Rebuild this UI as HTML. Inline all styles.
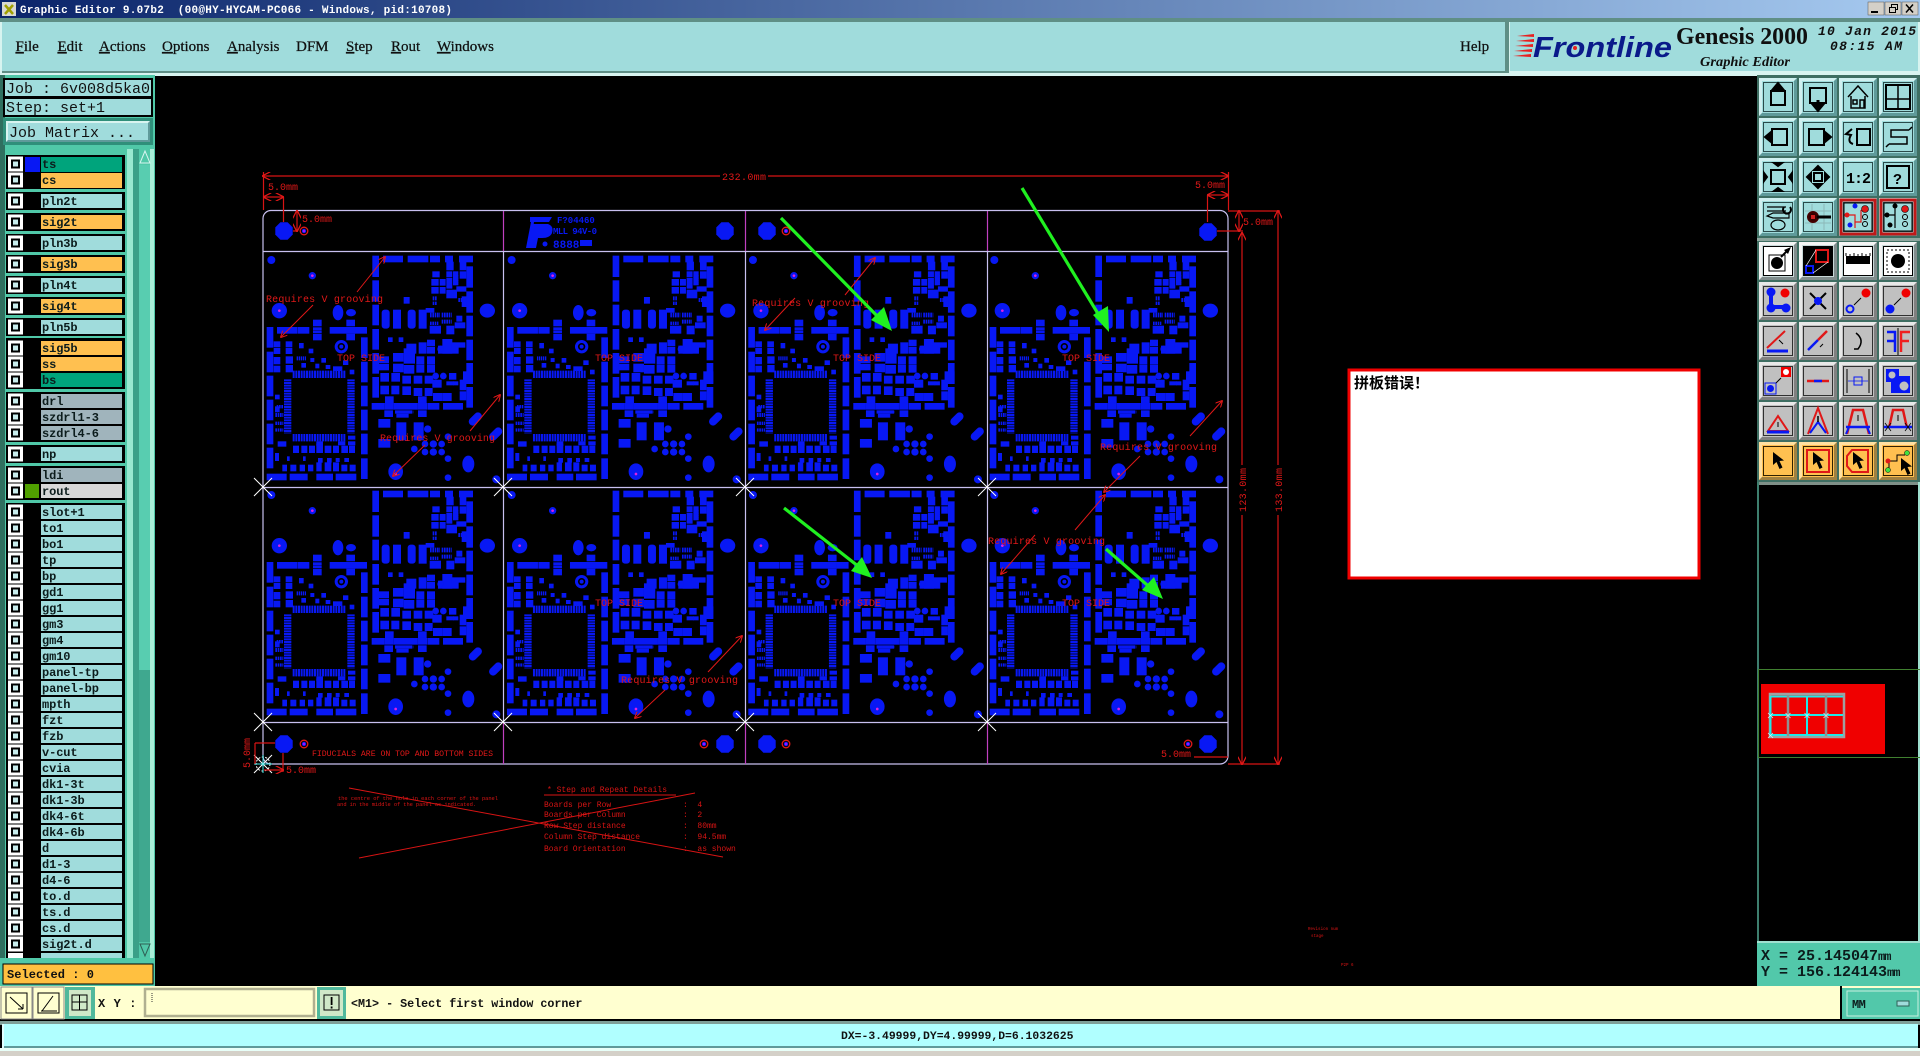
<!DOCTYPE html>
<html><head><meta charset="utf-8"><title>Graphic Editor</title>
<style>
html,body{margin:0;padding:0;background:#000;width:1920px;height:1056px;overflow:hidden}
svg{display:block;position:absolute;left:0;top:0}
text{font-family:"Liberation Mono","Noto Sans CJK SC",monospace;white-space:pre}
.l{font-size:12px;font-weight:bold;fill:#0c1c1c;letter-spacing:-.1px}
.m{font-family:"Liberation Serif",serif;font-size:15px;fill:#101010;stroke:#101010;stroke-width:.25px}
.r{font-size:10px;fill:#e01818}
.s{font-size:8px;fill:#d81414}
</style></head><body>
<svg width="1920" height="1056" viewBox="0 0 1920 1056" xmlns="http://www.w3.org/2000/svg">
<defs>
<linearGradient id="tb" x1="0" x2="1" y1="0" y2="0"><stop offset="0" stop-color="#0a246a"/><stop offset="1" stop-color="#a6caf0"/></linearGradient>
<g id="ck"><rect x="-7.5" y="-7.5" width="15" height="15" fill="#fff"/><rect x="-4.5" y="-4.5" width="9" height="9" fill="#000"/><rect x="-2.5" y="-2.5" width="5" height="5" fill="#c8ecec"/></g>
<marker id="ar" viewBox="0 0 8 8" refX="7" refY="4" markerWidth="7" markerHeight="7" orient="auto-start-reverse"><path d="M0 0L8 4L0 8" fill="none" stroke="#e01818" stroke-width="1.2"/></marker>
<path id="x" d="M-9-9L9 9M-9 9L9-9" stroke="#fff" stroke-width="1" fill="none"/>
<g id="ring"><circle r="3.8" fill="none" stroke="#e01818" stroke-width="1.3"/><circle r="2.2" fill="#2020ff"/><circle r=".9" fill="#f0f"/></g>
<polygon id="oct" points="-3.6,-8.7 3.6,-8.7 8.7,-3.6 8.7,3.6 3.6,8.7 -3.6,8.7 -8.7,3.6 -8.7,-3.6" fill="#0818f4"/>
<g id="bt"><rect width="38" height="38" fill="#a0dcdc"/><path d="M0 0H38L35 3H3V35L0 38Z" fill="#d0f0f0"/><path d="M38 38H0L3 35H35V3L38 0Z" fill="#5f9a9a"/><rect x="4.5" y="4.5" width="29" height="29" fill="none" stroke="#2a4a4a"/></g>
<g id="bg"><rect width="38" height="38" fill="#c0c0c0"/><path d="M0 0H38L35 3H3V35L0 38Z" fill="#e8e8e8"/><path d="M38 38H0L3 35H35V3L38 0Z" fill="#808080"/><rect x="4.5" y="4.5" width="29" height="29" fill="none" stroke="#303030"/></g>
<g id="bw"><rect width="38" height="38" fill="#c8d8d8"/><path d="M0 0H38L35 3H3V35L0 38Z" fill="#f4f4f4"/><path d="M38 38H0L3 35H35V3L38 0Z" fill="#808c8c"/><rect x="4.5" y="4.5" width="29" height="29" fill="#fff" stroke="#000"/></g>
<g id="bo"><rect width="38" height="38" fill="#ffc050"/><path d="M0 0H38L35 3H3V35L0 38Z" fill="#ffe0a0"/><path d="M38 38H0L3 35H35V3L38 0Z" fill="#a08040"/><rect x="4.5" y="4.5" width="29" height="29" fill="none" stroke="#302000"/></g>
<polygon id="cur" points="0,0 0,13 3.5,10 6.5,17 9.5,15.5 6.5,9 11,8.5" fill="#000"/>

<g id="cell" transform="scale(.33333)">
<g fill="#0818f4" stroke="#0818f4" stroke-width="2">
<rect x="368" y="48" width="18" height="62"/><rect x="400" y="48" width="58" height="18"/><rect x="474" y="48" width="60" height="18"/><rect x="541" y="48" width="28" height="18"/><rect x="586" y="48" width="22" height="18"/><rect x="628" y="48" width="40" height="18"/>
<rect x="368" y="122" width="18" height="62"/><rect x="368" y="195" width="18" height="60"/><rect x="368" y="268" width="18" height="60"/><rect x="368" y="340" width="18" height="60"/><rect x="368" y="412" width="18" height="60"/>
<rect x="650" y="80" width="18" height="62"/><rect x="650" y="155" width="18" height="62"/><rect x="650" y="228" width="18" height="60"/><rect x="650" y="300" width="18" height="60"/><rect x="650" y="370" width="18" height="60"/><rect x="650" y="442" width="18" height="60"/>
<rect x="590" y="66" width="20" height="24"/><rect x="630" y="66" width="18" height="24"/><rect x="548" y="95" width="20" height="16"/><rect x="545" y="118" width="20" height="18"/><rect x="570" y="118" width="16" height="18"/><rect x="545" y="142" width="20" height="18"/><rect x="570" y="142" width="16" height="18"/><rect x="590" y="95" width="16" height="16"/><rect x="590" y="115" width="16" height="30"/><rect x="590" y="150" width="30" height="24"/><rect x="620" y="140" width="28" height="14"/><rect x="636" y="170" width="14" height="30"/><rect x="610" y="95" width="14" height="40"/><rect x="630" y="95" width="18" height="20"/>
<rect x="396" y="210" width="22" height="55" rx="8"/><rect x="430" y="210" width="22" height="55"/><rect x="474" y="210" width="22" height="55" rx="8"/><rect x="507" y="210" width="22" height="55"/><rect x="528" y="205" width="24" height="12"/><rect x="620" y="228" width="16" height="16"/><rect x="615" y="248" width="30" height="16"/><rect x="590" y="258" width="22" height="24"/><rect x="540" y="258" width="32" height="22"/><rect x="462" y="172" width="16" height="18"/>
<rect x="415" y="293" width="12" height="12"/><rect x="447" y="293" width="12" height="12"/>
<rect x="532" y="300" width="22" height="18"/><rect x="532" y="322" width="22" height="18"/><rect x="507" y="308" width="22" height="32"/><rect x="470" y="312" width="28" height="28"/><rect x="462" y="326" width="32" height="44"/><rect x="430" y="340" width="30" height="24"/><rect x="430" y="372" width="30" height="24"/><rect x="462" y="376" width="30" height="24"/><rect x="500" y="350" width="22" height="22"/><rect x="532" y="350" width="22" height="22"/><rect x="500" y="375" width="22" height="22"/><rect x="532" y="375" width="22" height="22"/><rect x="578" y="298" width="28" height="42"/><rect x="565" y="318" width="60" height="22"/><rect x="605" y="308" width="40" height="14"/><rect x="386" y="350" width="30" height="18"/><rect x="386" y="372" width="30" height="18"/>
<rect x="392" y="400" width="24" height="24"/><rect x="425" y="400" width="24" height="24"/><rect x="458" y="408" width="24" height="22"/><rect x="492" y="408" width="24" height="22"/><rect x="525" y="408" width="24" height="22"/><rect x="392" y="438" width="24" height="24"/><rect x="425" y="438" width="22" height="24"/><rect x="458" y="440" width="24" height="24"/><rect x="492" y="445" width="24" height="22"/><rect x="525" y="445" width="22" height="22"/><rect x="548" y="420" width="26" height="22"/><rect x="550" y="460" width="26" height="22"/><rect x="578" y="460" width="26" height="22"/><rect x="598" y="400" width="20" height="18"/><rect x="590" y="425" width="20" height="10"/><rect x="610" y="425" width="14" height="10"/><rect x="630" y="420" width="18" height="30"/><rect x="630" y="455" width="18" height="25"/><rect x="640" y="395" width="28" height="36"/><rect x="406" y="470" width="24" height="18"/><rect x="505" y="470" width="24" height="18"/>
<rect x="366" y="490" width="36" height="18"/><rect x="404" y="490" width="26" height="18"/><rect x="432" y="490" width="70" height="18"/><rect x="504" y="490" width="26" height="18"/><rect x="533" y="490" width="34" height="18"/><rect x="580" y="490" width="58" height="18"/><rect x="404" y="512" width="24" height="18"/><rect x="505" y="512" width="24" height="18"/><rect x="436" y="512" width="50" height="8"/><rect x="440" y="522" width="35" height="10"/>
<rect x="386" y="538" width="34" height="24"/><rect x="386" y="598" width="34" height="24"/><rect x="440" y="548" width="28" height="52"/><rect x="492" y="548" width="28" height="52"/>
<rect x="51" y="262" width="18" height="60"/><rect x="51" y="336" width="18" height="60"/><rect x="51" y="408" width="18" height="60"/><rect x="51" y="480" width="18" height="60"/><rect x="51" y="552" width="18" height="60"/><rect x="51" y="624" width="18" height="60"/>
<rect x="334" y="293" width="18" height="60"/><rect x="334" y="366" width="18" height="60"/><rect x="334" y="438" width="18" height="60"/><rect x="334" y="510" width="18" height="60"/><rect x="334" y="582" width="18" height="60"/><rect x="334" y="656" width="18" height="60"/>
<rect x="51" y="702" width="58" height="18"/><rect x="120" y="702" width="52" height="18"/><rect x="200" y="702" width="48" height="18"/><rect x="258" y="702" width="60" height="18"/>
<rect x="130" y="618" width="16" height="20"/><rect x="155" y="618" width="16" height="20"/><rect x="178" y="618" width="16" height="20"/><rect x="200" y="612" width="18" height="26"/><rect x="225" y="618" width="18" height="20"/><rect x="250" y="618" width="16" height="20"/><rect x="275" y="618" width="18" height="20"/><rect x="298" y="618" width="16" height="20"/>
<rect x="98" y="675" width="12" height="18"/><rect x="122" y="675" width="16" height="18"/><rect x="150" y="675" width="14" height="18"/><rect x="175" y="675" width="14" height="18"/><rect x="200" y="668" width="14" height="25"/><rect x="225" y="668" width="18" height="25"/><rect x="250" y="668" width="16" height="25"/><rect x="275" y="675" width="16" height="18"/><rect x="300" y="675" width="16" height="18"/><rect x="76" y="640" width="10" height="22"/><rect x="112" y="650" width="6" height="12"/><rect x="160" y="650" width="6" height="12"/><rect x="205" y="655" width="12" height="12"/><rect x="232" y="655" width="12" height="12"/><rect x="258" y="655" width="10" height="10"/><rect x="284" y="655" width="12" height="10"/><rect x="265" y="605" width="20" height="10"/><rect x="295" y="588" width="20" height="10"/><rect x="295" y="605" width="20" height="10"/>
<rect x="82" y="262" width="60" height="18"/><rect x="145" y="262" width="32" height="18"/><rect x="240" y="262" width="50" height="18"/><rect x="315" y="262" width="35" height="18"/><rect x="290" y="240" width="24" height="18"/><rect x="290" y="282" width="24" height="18"/><rect x="190" y="240" width="24" height="18"/><rect x="190" y="282" width="24" height="18"/><rect x="190" y="263" width="24" height="6"/><rect x="190" y="272" width="24" height="6"/><rect x="290" y="262" width="25" height="18"/>
<rect x="72" y="305" width="18" height="16"/><rect x="108" y="305" width="18" height="16"/><rect x="72" y="325" width="18" height="16"/><rect x="108" y="325" width="18" height="16"/><rect x="72" y="352" width="18" height="20"/><rect x="108" y="350" width="20" height="20"/><rect x="72" y="378" width="18" height="18"/><rect x="108" y="376" width="20" height="20"/>
<rect x="148" y="310" width="12" height="14"/><rect x="177" y="327" width="12" height="12"/><rect x="155" y="370" width="12" height="12"/><rect x="182" y="355" width="10" height="10"/><rect x="215" y="355" width="12" height="12"/><rect x="197" y="372" width="10" height="12"/><rect x="228" y="376" width="12" height="10"/><rect x="250" y="380" width="26" height="12"/><rect x="300" y="390" width="12" height="12"/><rect x="280" y="362" width="14" height="12"/>
<rect x="76" y="465" width="12" height="12"/><rect x="76" y="500" width="12" height="16"/><rect x="84" y="605" width="24" height="14"/><rect x="200" y="605" width="18" height="12"/>
<circle cx="64" cy="60" r="11"/><circle cx="187" cy="107" r="10"/><circle cx="88" cy="212" r="22"/><ellipse cx="264" cy="218" rx="15" ry="22"/><ellipse cx="303" cy="218" rx="14" ry="10"/><ellipse cx="712" cy="212" rx="22" ry="20"/>
<rect x="654" y="526" width="44" height="22" rx="11" transform="rotate(-45 676 537)"/><rect x="715" y="571" width="44" height="22" rx="11" transform="rotate(-45 737 582)"/>
<ellipse cx="655" cy="672" rx="17" ry="24"/><ellipse cx="437" cy="695" rx="21" ry="24"/><circle cx="594" cy="713" r="9"/><circle cx="739" cy="718" r="11"/><circle cx="533" cy="567" r="10"/><circle cx="525" cy="612" r="9"/><circle cx="550" cy="612" r="10"/><circle cx="575" cy="612" r="9"/><circle cx="525" cy="636" r="9"/><circle cx="550" cy="636" r="10"/><circle cx="575" cy="636" r="9"/><circle cx="493" cy="627" r="9"/><circle cx="594" cy="656" r="9"/><circle cx="594" cy="590" r="9"/><circle cx="572" cy="327" r="9"/><circle cx="557" cy="408" r="9"/><circle cx="580" cy="408" r="9"/>
<circle cx="274" cy="320" r="19"/>
</g>
<circle cx="274" cy="320" r="11" fill="#000"/><circle cx="274" cy="320" r="6" fill="#0818f4"/>
<circle cx="187" cy="107" r="4" fill="#e020e0"/><circle cx="88" cy="212" r="4" fill="#e020e0"/><circle cx="437" cy="702" r="4" fill="#e020e0"/>
<g stroke="#0818f4" fill="none">
<line x1="128" x2="288" y1="403" y2="403" stroke-width="22" stroke-dasharray="6 2"/>
<line x1="128" x2="288" y1="593" y2="593" stroke-width="22" stroke-dasharray="6 2"/>
<line x1="113" x2="113" y1="418" y2="580" stroke-width="22" stroke-dasharray="6 2"/>
<line x1="303" x2="303" y1="418" y2="580" stroke-width="22" stroke-dasharray="6 2"/>
<line x1="548" x2="562" y1="175" y2="175" stroke-width="12" stroke-dasharray="5 2"/><line x1="548" x2="562" y1="190" y2="190" stroke-width="10" stroke-dasharray="5 2"/>
<line x1="540" x2="570" y1="225" y2="225" stroke-width="14" stroke-dasharray="5 2"/><line x1="575" x2="605" y1="225" y2="225" stroke-width="14" stroke-dasharray="5 2"/>
<line x1="540" x2="565" y1="250" y2="250" stroke-width="10" stroke-dasharray="5 2"/><line x1="575" x2="605" y1="245" y2="245" stroke-width="12" stroke-dasharray="5 2"/>
<line x1="620" x2="620" y1="105" y2="135" stroke-width="10" stroke-dasharray="5 2"/><line x1="625" x2="648" y1="180" y2="180" stroke-width="12" stroke-dasharray="5 2"/>
<line x1="80" x2="100" y1="500" y2="500" stroke-width="10" stroke-dasharray="5 2"/><line x1="76" x2="100" y1="525" y2="525" stroke-width="12" stroke-dasharray="5 2"/><line x1="76" x2="100" y1="550" y2="550" stroke-width="10" stroke-dasharray="5 2"/><line x1="76" x2="100" y1="570" y2="570" stroke-width="10" stroke-dasharray="5 2"/>
<line x1="140" x2="168" y1="355" y2="355" stroke-width="12" stroke-dasharray="4 2"/>
<line x1="440" x2="490" y1="516" y2="516" stroke-width="8" stroke-dasharray="5 2"/>
</g>
</g>
</defs>

<!-- base -->
<rect width="1920" height="1056" fill="#000"/>
<rect width="1920" height="18" fill="url(#tb)"/>
<rect x="2" y="2" width="14" height="14" fill="#d8d8d0"/><path d="M5 5L13 14M13 5L5 14" stroke="#a0a000" stroke-width="2.5"/>
<text x="20" y="13" font-size="11" font-weight="bold" fill="#fff" letter-spacing=".26">Graphic Editor 9.07b2  (00@HY-HYCAM-PC066 - Windows, pid:10708)</text>
<rect x="1868" y="2" width="16" height="13" fill="#d4d0c8" stroke="#555" stroke-width=".5"/><rect x="1871" y="11" width="7" height="2" fill="#000"/>
<rect x="1885" y="2" width="16" height="13" fill="#d4d0c8" stroke="#555" stroke-width=".5"/><path d="M1889.5 7.5h6v5h-6zM1891.5 7V4.5h6v5h-2" fill="none" stroke="#000"/>
<rect x="1902" y="2" width="16" height="13" fill="#d4d0c8" stroke="#555" stroke-width=".5"/><path d="M1906 4.5l7 8M1913 4.5l-7 8" stroke="#000" stroke-width="1.5"/>

<!-- menu -->
<rect y="18" width="1920" height="58" fill="#d8f4f0"/>
<rect y="18" width="1920" height="4" fill="#5f8f86"/>
<rect x="2" y="22" width="1503" height="49" fill="#a0dcdc"/>
<rect x="2" y="71" width="1503" height="2" fill="#5f8f86"/>
<rect x="1505" y="22" width="4" height="51" fill="#5f8f86"/>
<rect x="1510" y="22" width="408" height="49" fill="#a0dcdc"/>
<text class="m" x="15.5" y="51"><tspan text-decoration="underline">F</tspan>ile</text>
<text class="m" x="57.5" y="51"><tspan text-decoration="underline">E</tspan>dit</text>
<text class="m" x="99" y="51"><tspan text-decoration="underline">A</tspan>ctions</text>
<text class="m" x="162" y="51"><tspan text-decoration="underline">O</tspan>ptions</text>
<text class="m" x="227" y="51"><tspan text-decoration="underline">A</tspan>nalysis</text>
<text class="m" x="296" y="51">DFM</text>
<text class="m" x="346" y="51"><tspan text-decoration="underline">S</tspan>tep</text>
<text class="m" x="391" y="51"><tspan text-decoration="underline">R</tspan>out</text>
<text class="m" x="437" y="51"><tspan text-decoration="underline">W</tspan>indows</text>
<text class="m" x="1460" y="51">Help</text>
<!-- logo -->
<g fill="#e82020"><polygon points="1517,36 1534,34 1534,37"/><polygon points="1516,41 1534,39 1534,42"/><polygon points="1515,46 1533,44 1533,47"/><polygon points="1514,51 1532,49 1532,52"/><polygon points="1513,56 1531,54 1531,57"/></g>
<text x="1533" y="57" font-size="29" font-weight="bold" font-style="italic" fill="#0a1a8a" style="font-family:'Liberation Sans',sans-serif" textLength="139" lengthAdjust="spacingAndGlyphs">Frontline</text>
<circle cx="1575" cy="48" r="2" fill="#e82020"/>
<text x="1676" y="44" font-size="24" font-weight="bold" fill="#101010" style="font-family:'Liberation Serif',serif" textLength="132" lengthAdjust="spacingAndGlyphs">Genesis 2000</text>
<text x="1700" y="66" font-size="14" font-weight="bold" font-style="italic" fill="#101010" style="font-family:'Liberation Serif',serif" textLength="90" lengthAdjust="spacingAndGlyphs">Graphic Editor</text>
<text x="1818" y="35" font-size="13" font-weight="bold" font-style="italic" fill="#101010" textLength="98">10 Jan 2015</text>
<text x="1830" y="50" font-size="13" font-weight="bold" font-style="italic" fill="#101010" textLength="72">08:15 AM</text>

<!-- left panel -->
<rect y="75" width="155" height="912" fill="#50c8a8"/>
<rect y="75" width="5" height="912" fill="#2f6f5f"/>
<rect x="3" y="78" width="150" height="39" fill="#000"/>
<rect x="5" y="80" width="146" height="16" fill="#a0dcdc"/><rect x="5" y="99" width="146" height="16" fill="#a0dcdc"/>
<text x="6" y="93" font-size="15" fill="#111">Job : 6v008d5ka0</text>
<text x="6" y="112" font-size="15" fill="#111">Step: set+1</text>
<rect x="3" y="118" width="150" height="27" fill="#2f8f7a"/>
<rect x="6" y="121" width="144" height="21" fill="#a0dcdc"/><path d="M6 142V121H150L148 123H8V140Z" fill="#d8f4f0"/><path d="M150 121V142H6L8 140H148V123Z" fill="#5f9a9a"/>
<text x="9" y="137" font-size="15" fill="#111">Job Matrix ...</text>
<!-- scrollbar -->
<rect x="127" y="149" width="28" height="810" fill="#50c8a8"/>
<rect x="127" y="149" width="6" height="810" fill="#98e8d0"/>
<rect x="133" y="149" width="6" height="810" fill="#3aa088"/>
<rect x="139" y="165" width="11" height="505" fill="#58cdb0"/><rect x="139" y="670" width="11" height="272" fill="#3fa88f"/>
<rect x="150" y="149" width="4" height="810" fill="#a8eed8"/>
<polygon points="145,151 140,163 150,163" fill="#50c8a8" stroke="#d8f4f0"/>
<polygon points="145,956 140,944 150,944" fill="#50c8a8" stroke="#2f5f55"/>
<!-- layer frames -->
<g fill="#000">
<rect x="6" y="155" width="119" height="34"/><rect x="6" y="192" width="119" height="18"/><rect x="6" y="213" width="119" height="18"/><rect x="6" y="234" width="119" height="18"/><rect x="6" y="255" width="119" height="18"/><rect x="6" y="276" width="119" height="18"/><rect x="6" y="297" width="119" height="18"/><rect x="6" y="318" width="119" height="18"/><rect x="6" y="338" width="119" height="51"/><rect x="6" y="392" width="119" height="50"/><rect x="6" y="445" width="119" height="18"/><rect x="6" y="466" width="119" height="34"/><rect x="6" y="503" width="119" height="456"/>
</g>
<!-- colored bars -->
<g>
<rect x="41" y="157" width="81" height="15" fill="#00a47c"/><rect x="41" y="173" width="81" height="15" fill="#ffc050"/>
<rect x="41" y="194" width="81" height="14" fill="#a0dcdc"/><rect x="41" y="215" width="81" height="14" fill="#ffc050"/><rect x="41" y="236" width="81" height="14" fill="#a0dcdc"/><rect x="41" y="257" width="81" height="14" fill="#ffc050"/><rect x="41" y="278" width="81" height="14" fill="#a0dcdc"/><rect x="41" y="299" width="81" height="14" fill="#ffc050"/><rect x="41" y="320" width="81" height="14" fill="#a0dcdc"/>
<rect x="41" y="341" width="81" height="14" fill="#ffc050"/><rect x="41" y="357" width="81" height="14" fill="#ffc050"/><rect x="41" y="373" width="81" height="14" fill="#00a47c"/>
<rect x="41" y="394" width="81" height="14" fill="#a0b4bc"/><rect x="41" y="410" width="81" height="14" fill="#a0b4bc"/><rect x="41" y="426" width="81" height="14" fill="#a0b4bc"/>
<rect x="41" y="447" width="81" height="14" fill="#a0dcdc"/>
<rect x="41" y="468" width="81" height="14" fill="#a0b4bc"/><rect x="41" y="484" width="81" height="14" fill="#d8d8d8"/>
<rect x="25" y="157" width="15" height="15" fill="#0818f4"/><rect x="25" y="484" width="14" height="14" fill="#50a000"/>
</g>
<g fill="#a0dcdc">
<rect x="41" y="505" width="81" height="14"/><rect x="41" y="521" width="81" height="14"/><rect x="41" y="537" width="81" height="14"/><rect x="41" y="553" width="81" height="14"/><rect x="41" y="569" width="81" height="14"/><rect x="41" y="585" width="81" height="14"/><rect x="41" y="601" width="81" height="14"/><rect x="41" y="617" width="81" height="14"/><rect x="41" y="633" width="81" height="14"/><rect x="41" y="649" width="81" height="14"/><rect x="41" y="665" width="81" height="14"/><rect x="41" y="681" width="81" height="14"/><rect x="41" y="697" width="81" height="14"/><rect x="41" y="713" width="81" height="14"/><rect x="41" y="729" width="81" height="14"/><rect x="41" y="745" width="81" height="14"/><rect x="41" y="761" width="81" height="14"/><rect x="41" y="777" width="81" height="14"/><rect x="41" y="793" width="81" height="14"/><rect x="41" y="809" width="81" height="14"/><rect x="41" y="825" width="81" height="14"/><rect x="41" y="841" width="81" height="14"/><rect x="41" y="857" width="81" height="14"/><rect x="41" y="873" width="81" height="14"/><rect x="41" y="889" width="81" height="14"/><rect x="41" y="905" width="81" height="14"/><rect x="41" y="921" width="81" height="14"/><rect x="41" y="937" width="81" height="14"/><rect x="41" y="953" width="81" height="6"/>
</g>
<!-- checkboxes -->
<g>
<use href="#ck" x="15.5" y="164"/><use href="#ck" x="15.5" y="180"/><use href="#ck" x="15.5" y="201"/><use href="#ck" x="15.5" y="222"/><use href="#ck" x="15.5" y="243"/><use href="#ck" x="15.5" y="264"/><use href="#ck" x="15.5" y="285"/><use href="#ck" x="15.5" y="306"/><use href="#ck" x="15.5" y="327"/><use href="#ck" x="15.5" y="348"/><use href="#ck" x="15.5" y="364"/><use href="#ck" x="15.5" y="380"/><use href="#ck" x="15.5" y="401"/><use href="#ck" x="15.5" y="417"/><use href="#ck" x="15.5" y="433"/><use href="#ck" x="15.5" y="454"/><use href="#ck" x="15.5" y="475"/><use href="#ck" x="15.5" y="491"/>
<use href="#ck" x="15.5" y="512"/><use href="#ck" x="15.5" y="528"/><use href="#ck" x="15.5" y="544"/><use href="#ck" x="15.5" y="560"/><use href="#ck" x="15.5" y="576"/><use href="#ck" x="15.5" y="592"/><use href="#ck" x="15.5" y="608"/><use href="#ck" x="15.5" y="624"/><use href="#ck" x="15.5" y="640"/><use href="#ck" x="15.5" y="656"/><use href="#ck" x="15.5" y="672"/><use href="#ck" x="15.5" y="688"/><use href="#ck" x="15.5" y="704"/><use href="#ck" x="15.5" y="720"/><use href="#ck" x="15.5" y="736"/><use href="#ck" x="15.5" y="752"/><use href="#ck" x="15.5" y="768"/><use href="#ck" x="15.5" y="784"/><use href="#ck" x="15.5" y="800"/><use href="#ck" x="15.5" y="816"/><use href="#ck" x="15.5" y="832"/><use href="#ck" x="15.5" y="848"/><use href="#ck" x="15.5" y="864"/><use href="#ck" x="15.5" y="880"/><use href="#ck" x="15.5" y="896"/><use href="#ck" x="15.5" y="912"/><use href="#ck" x="15.5" y="928"/><use href="#ck" x="15.5" y="944"/>
</g>
<rect x="8" y="953" width="15" height="6" fill="#fff"/>
<!-- layer labels -->
<text class="l" x="42" y="168">ts</text><text class="l" x="42" y="184">cs</text><text class="l" x="42" y="205">pln2t</text><text class="l" x="42" y="226">sig2t</text><text class="l" x="42" y="247">pln3b</text><text class="l" x="42" y="268">sig3b</text><text class="l" x="42" y="289">pln4t</text><text class="l" x="42" y="310">sig4t</text><text class="l" x="42" y="331">pln5b</text><text class="l" x="42" y="352">sig5b</text><text class="l" x="42" y="368">ss</text><text class="l" x="42" y="384">bs</text><text class="l" x="42" y="405">drl</text><text class="l" x="42" y="421">szdrl1-3</text><text class="l" x="42" y="437">szdrl4-6</text><text class="l" x="42" y="458">np</text><text class="l" x="42" y="479">ldi</text><text class="l" x="42" y="495">rout</text>
<text class="l" x="42" y="516">slot+1</text><text class="l" x="42" y="532">to1</text><text class="l" x="42" y="548">bo1</text><text class="l" x="42" y="564">tp</text><text class="l" x="42" y="580">bp</text><text class="l" x="42" y="596">gd1</text><text class="l" x="42" y="612">gg1</text><text class="l" x="42" y="628">gm3</text><text class="l" x="42" y="644">gm4</text><text class="l" x="42" y="660">gm10</text><text class="l" x="42" y="676">panel-tp</text><text class="l" x="42" y="692">panel-bp</text><text class="l" x="42" y="708">mpth</text><text class="l" x="42" y="724">fzt</text><text class="l" x="42" y="740">fzb</text><text class="l" x="42" y="756">v-cut</text><text class="l" x="42" y="772">cvia</text><text class="l" x="42" y="788">dk1-3t</text><text class="l" x="42" y="804">dk1-3b</text><text class="l" x="42" y="820">dk4-6t</text><text class="l" x="42" y="836">dk4-6b</text><text class="l" x="42" y="852">d</text><text class="l" x="42" y="868">d1-3</text><text class="l" x="42" y="884">d4-6</text><text class="l" x="42" y="900">to.d</text><text class="l" x="42" y="916">ts.d</text><text class="l" x="42" y="932">cs.d</text><text class="l" x="42" y="948">sig2t.d</text>
<!-- selected -->
<rect y="958" width="155" height="29" fill="#50c8a8"/>
<rect x="3" y="964" width="150" height="20" fill="#ffc040" stroke="#000"/>
<text x="7" y="978" font-size="12" font-weight="bold" fill="#111" letter-spacing=".05">Selected : 0</text>

<!-- PCB cells -->
<use href="#cell" x="250" y="240"/><use href="#cell" x="490.3" y="240"/><use href="#cell" x="731.6" y="240"/><use href="#cell" x="973" y="240"/>
<use href="#cell" x="250" y="475"/><use href="#cell" x="490.3" y="475"/><use href="#cell" x="731.6" y="475"/><use href="#cell" x="973" y="475"/>

<!-- outline and grid -->
<g fill="none" stroke-width="1.2">
<rect x="263" y="210.5" width="965" height="553.5" rx="8" stroke="#c8c0f0"/>
<path d="M263 251.5H1228M263 487.5H1228M263 722.5H1228" stroke="#c8c0f0"/>
<path d="M503.5 251V722M745.5 251V722M987.5 251V722" stroke="#c8c0f0"/>
<path d="M503.5 211V251M745.5 211V251M987.5 211V251M503.5 723V764M745.5 723V764M987.5 723V764" stroke="#c040c0"/>
</g>
<g>
<use href="#x" x="263" y="487"/><use href="#x" x="503" y="487"/><use href="#x" x="745" y="487"/><use href="#x" x="987" y="487"/>
<use href="#x" x="263" y="722"/><use href="#x" x="503" y="722"/><use href="#x" x="745" y="722"/><use href="#x" x="987" y="722"/>
<use href="#x" x="263" y="764"/>
</g>
<circle cx="263" cy="764" r="7" fill="none" stroke="#fff" stroke-dasharray="2 1.5"/><path d="M254 764H272M263 755V773" stroke="#40e8e8"/>
<!-- rail fiducials -->
<use href="#oct" x="284" y="231"/><use href="#ring" x="304" y="231"/>
<use href="#oct" x="725" y="231"/><use href="#oct" x="767" y="231"/><use href="#ring" x="786" y="231"/><use href="#oct" x="1208" y="232"/>
<use href="#oct" x="284" y="744"/><use href="#ring" x="304" y="744"/>
<use href="#ring" x="704" y="744"/><use href="#oct" x="725" y="744"/><use href="#oct" x="767" y="744"/><use href="#ring" x="786" y="744"/>
<use href="#ring" x="1188" y="744"/><use href="#oct" x="1208" y="744"/>
<!-- logo block -->
<g fill="#0818f4">
<path d="M530 217H552L549 222H530ZM526 248L531 222L534 222L530 248Z"/>
<path d="M532 224H548Q554 226 552 233Q550 238 542 238H538L536 248H528Z"/>
<circle cx="545" cy="244" r="2.5"/>
</g>
<text x="557" y="223" font-size="9" font-weight="bold" fill="#0818f4">F?04460</text>
<text x="553" y="234" font-size="9" font-weight="bold" fill="#0818f4" textLength="44">MLL 94V-0</text>
<text x="553" y="248" font-size="11" font-weight="bold" fill="#0818f4">8888</text>
<rect x="580" y="240" width="12" height="6" fill="#0818f4"/>

<!-- dims -->
<g fill="none" stroke="#d81414" stroke-width="1.2">
<path d="M263.5 210V172M283.5 222V197M297 231H293M1228.5 172V210M1207.5 222V195M1228 211H1280M1217 231H1243M1228 764H1280M255 743H275M255 743V764M283 753V772"/>
<path d="M263 176H720" marker-start="url(#ar)"/><path d="M768 176H1228" marker-end="url(#ar)"/>
<path d="M264 197H283" marker-start="url(#ar)" marker-end="url(#ar)"/>
<path d="M1208 195H1228" marker-start="url(#ar)" marker-end="url(#ar)"/>
<path d="M297 211V231" marker-start="url(#ar)" marker-end="url(#ar)"/>
<path d="M1239 211V231" marker-start="url(#ar)" marker-end="url(#ar)"/>
<path d="M1242 233V465" marker-start="url(#ar)"/><path d="M1242 515V764" marker-end="url(#ar)"/>
<path d="M1278 211V465" marker-start="url(#ar)"/><path d="M1278 515V764" marker-end="url(#ar)"/>
<path d="M264 770H283" marker-end="url(#ar)"/>
<path d="M1194 757H1228" />
</g>
<text class="r" x="722" y="180" textLength="44">232.0mm</text>
<text class="r" x="268" y="190">5.0mm</text>
<text class="r" x="302" y="222">5.0mm</text>
<text class="r" x="1195" y="188">5.0mm</text>
<text class="r" x="1243" y="225">5.0mm</text>
<text class="r" x="1161" y="757">5.0mm</text>
<text class="r" x="286" y="773">5.0mm</text>
<text class="r" transform="translate(250 768) rotate(-90)">5.0mm</text>
<text class="r" transform="translate(1246 512) rotate(-90)" textLength="44">123.0mm</text>
<text class="r" transform="translate(1282 512) rotate(-90)" textLength="44">133.0mm</text>
<text x="312" y="756" font-size="8.2" fill="#e01818" textLength="181">FIDUCIALS ARE ON TOP AND BOTTOM SIDES</text>

<!-- red labels -->
<g>
<text class="r" x="266" y="302" textLength="117">Requires V grooving</text>
<text class="r" x="380" y="441" textLength="115">Requires V grooving</text>
<text class="r" x="752" y="306" textLength="117">Requires V grooving</text>
<text class="r" x="1100" y="450" textLength="117">Requires V grooving</text>
<text class="r" x="988" y="544" textLength="117">Requires V grooving</text>
<text class="r" x="621" y="683" textLength="117">Requires V grooving</text>
<text class="r" x="337" y="361">TOP SIDE</text>
<text class="r" x="595" y="361">TOP SIDE</text>
<text class="r" x="833" y="361">TOP SIDE</text>
<text class="r" x="1062" y="361">TOP SIDE</text>
<text class="r" x="595" y="606">TOP SIDE</text>
<text class="r" x="833" y="606">TOP SIDE</text>
<text class="r" x="1062" y="606">TOP SIDE</text>
</g>
<g stroke="#e01818" stroke-width="1" fill="none">
<path d="M357 292L385 257" marker-end="url(#ar)"/><path d="M313 305L281 337" marker-end="url(#ar)"/>
<path d="M470 431L500 395" marker-end="url(#ar)"/><path d="M425 445L393 476" marker-end="url(#ar)"/>
<path d="M795 298L765 330" marker-end="url(#ar)"/><path d="M845 295L875 258" marker-end="url(#ar)"/>
<path d="M1190 436L1222 401" marker-end="url(#ar)"/><path d="M1140 456L1104 492" marker-end="url(#ar)"/>
<path d="M1035 535L1001 574" marker-end="url(#ar)"/><path d="M1075 530L1105 495" marker-end="url(#ar)"/>
<path d="M708 672L742 636" marker-end="url(#ar)"/><path d="M665 690L635 718" marker-end="url(#ar)"/>
</g>

<!-- notes -->
<text x="338" y="800" font-size="5.4" fill="#d81414" textLength="160">the centre of the hole in each corner of the panel</text>
<text x="337" y="806" font-size="5.4" fill="#d81414" textLength="139">and in the middle of the panel as indicated.</text>
<text class="s" x="547" y="792" textLength="120">* Step and Repeat Details</text>
<line x1="544" x2="676" y1="795" y2="795" stroke="#d81414"/>
<text class="s" x="544" y="807">Boards per Row</text><text class="s" x="683" y="807">:  4</text>
<text class="s" x="544" y="817">Boards per Column</text><text class="s" x="683" y="817">:  2</text>
<text class="s" x="544" y="828">Row Step distance</text><text class="s" x="683" y="828">:  80mm</text>
<text class="s" x="544" y="839">Column Step distance</text><text class="s" x="683" y="839">:  94.5mm</text>
<text class="s" x="544" y="851">Board Orientation</text><text class="s" x="683" y="851">:  as shown</text>
<path d="M349 788L723 857M359 858L695 793" stroke="#d81414" stroke-width="1" fill="none"/>
<text x="1308" y="930" font-size="4.2" fill="#d81414">Revision num</text>
<text x="1311" y="937" font-size="4.2" fill="#d81414">stage</text>
<text x="1341" y="966" font-size="4.2" fill="#d81414">P2P 6</text>

<!-- green arrows -->
<g stroke="#20f020" stroke-width="3.2" fill="#20f020">
<line x1="781" y1="218" x2="883" y2="322"/><polygon points="892,331 871,320 884,307" stroke="none"/>
<line x1="1022" y1="188" x2="1100" y2="317"/><polygon points="1109,332 1093,315 1108,306" stroke="none"/>
<line x1="784" y1="508" x2="863" y2="570"/><polygon points="872,578 851,571 862,557" stroke="none"/>
<line x1="1106" y1="549" x2="1154" y2="591"/><polygon points="1163,599 1142,590 1154,577" stroke="none"/>
</g>

<!-- message box -->
<rect x="1349" y="370" width="350" height="208" fill="#fff" stroke="#f00000" stroke-width="3"/>
<text x="1354" y="388" font-size="15" font-weight="bold" fill="#000" style="font-family:'Noto Sans CJK SC','WenQuanYi Zen Hei',sans-serif">拼板错误！</text>

<!-- right panel -->
<rect x="1757" y="75" width="163" height="407" fill="#3e6e62"/>
<rect x="1757" y="238" width="163" height="3" fill="#8fa8a0"/>
<rect x="1757" y="482" width="163" height="3" fill="#7f9088"/>
<rect x="1757" y="482" width="2" height="460" fill="#3e7e6e"/>
<rect x="1918" y="482" width="2" height="460" fill="#a0e0d0"/>
<g>
<use href="#bt" x="1759" y="78"/><use href="#bt" x="1799" y="78"/><use href="#bt" x="1839" y="78"/><use href="#bt" x="1879" y="78"/>
<use href="#bt" x="1759" y="118"/><use href="#bt" x="1799" y="118"/><use href="#bt" x="1839" y="118"/><use href="#bt" x="1879" y="118"/>
<use href="#bt" x="1759" y="158"/><use href="#bt" x="1799" y="158"/><use href="#bt" x="1839" y="158"/><use href="#bt" x="1879" y="158"/>
<use href="#bt" x="1759" y="198"/><use href="#bt" x="1799" y="198"/><use href="#bt" x="1839" y="198"/><use href="#bt" x="1879" y="198"/>
<use href="#bw" x="1759" y="242"/><use href="#bw" x="1799" y="242"/><use href="#bw" x="1839" y="242"/><use href="#bw" x="1879" y="242"/>
<use href="#bg" x="1759" y="282"/><use href="#bg" x="1799" y="282"/><use href="#bg" x="1839" y="282"/><use href="#bg" x="1879" y="282"/>
<use href="#bg" x="1759" y="322"/><use href="#bg" x="1799" y="322"/><use href="#bg" x="1839" y="322"/><use href="#bg" x="1879" y="322"/>
<use href="#bg" x="1759" y="362"/><use href="#bg" x="1799" y="362"/><use href="#bg" x="1839" y="362"/><use href="#bg" x="1879" y="362"/>
<use href="#bg" x="1759" y="402"/><use href="#bg" x="1799" y="402"/><use href="#bg" x="1839" y="402"/><use href="#bg" x="1879" y="402"/>
<use href="#bo" x="1759" y="442"/><use href="#bo" x="1799" y="442"/><use href="#bo" x="1839" y="442"/><use href="#bo" x="1879" y="442"/>
</g>
<!-- icons row 1-4 -->
<g fill="none" stroke="#000" stroke-width="2">
<g transform="translate(1759 78)"><rect x="12" y="13" width="14" height="14"/><path d="M19 5L14 11H24Z" fill="#000"/><path d="M19 10V14" stroke-width="3"/></g>
<g transform="translate(1799 78)"><rect x="11" y="10" width="16" height="15"/><path d="M19 33L14 27H24Z" fill="#000"/><path d="M19 22V28" stroke-width="3"/></g>
<g transform="translate(1839 78)" stroke-width="1.5"><path d="M9 19L19 8L29 19M12 18V30H26V18M21 22H25V30H21ZM14 22H18V26H14Z"/></g>
<g transform="translate(1879 78)"><rect x="7" y="7" width="24" height="24"/><path d="M19 7V31M7 21H31" stroke-width="1.5"/></g>
<g transform="translate(1759 118)"><rect x="13" y="11" width="15" height="16"/><path d="M6 19L12 14V24Z" fill="#000"/></g>
<g transform="translate(1799 118)"><rect x="10" y="11" width="15" height="16"/><path d="M32 19L26 14V24Z" fill="#000"/></g>
<g transform="translate(1839 118)"><rect x="18" y="11" width="13" height="16"/><path d="M14 26Q8 24 12 17L7 16L13 11" stroke-width="2"/></g>
<g transform="translate(1879 118)"><path d="M30 12H12V19H28V26H10M30 12L33 9M10 26L7 29" stroke-width="1.5"/></g>
<g transform="translate(1759 158)"><rect x="12" y="12" width="14" height="14"/><path d="M19 8L15 5H23ZM19 30L15 33H23ZM8 19L5 15V23ZM30 19L33 15V23Z" fill="#000"/></g>
<g transform="translate(1799 158)"><rect x="15" y="15" width="8" height="8"/><path d="M19 8L15 12H23ZM19 30L15 26H23ZM8 19L12 15V23ZM30 19L26 15V23Z" fill="#000"/></g>
<g transform="translate(1879 158)"><rect x="8" y="8" width="22" height="22"/></g>
<g transform="translate(1759 198)" stroke-width="1.2"><path d="M8 9H27M8 13H27M8 18L14 15H30V20H14Z"/><path d="M25 9a4 4 0 1 0 6 0" stroke-width="2"/><ellipse cx="19" cy="27" rx="7" ry="5"/></g>
<g transform="translate(1799 198)"><path d="M6 13H32M6 25H32M13 6V32M25 6V32" stroke="#8cb8b8" stroke-width="1"/><circle cx="14" cy="19" r="5" fill="#300" stroke="#400"/><rect x="12" y="17" width="4" height="4" fill="#d02020" stroke="none"/><path d="M18 19H32" stroke-width="3"/></g>
</g>
<text x="1846" y="183" font-size="15" font-weight="bold" fill="#000" letter-spacing="-1">1:2</text>
<text x="1893" y="184" font-size="15" font-weight="bold" fill="#000">?</text>
<g transform="translate(1839 198)"><rect x="2" y="2" width="34" height="34" fill="none" stroke="#c01818" stroke-width="3"/><rect x="5" y="5" width="28" height="28" fill="none" stroke="#000"/><path d="M8 17H16V30M16 24H22V12M16 17" fill="none" stroke="#e01818" stroke-width="1.2"/><circle cx="8" cy="17" r="2.5" fill="#e01818"/><circle cx="16" cy="8" r="2.5" fill="#0818f4"/><circle cx="11" cy="27" r="2.5" fill="#0818f4"/><circle cx="26" cy="11" r="3.5" fill="#e01818" stroke="#000" stroke-width=".6"/><circle cx="26" cy="19" r="2.5" fill="none" stroke="#000"/><circle cx="26" cy="26" r="2.5" fill="none" stroke="#000"/></g>
<g transform="translate(1879 198)"><rect x="2" y="2" width="34" height="34" fill="none" stroke="#c01818" stroke-width="3"/><rect x="5" y="5" width="28" height="28" fill="none" stroke="#000"/><path d="M8 17H16M16 8V30" fill="none" stroke="#000" stroke-width="1.2"/><circle cx="8" cy="17" r="2.5" fill="#000"/><circle cx="16" cy="8" r="2.5" fill="#000"/><circle cx="11" cy="27" r="2.5" fill="#000"/><circle cx="26" cy="11" r="3.5" fill="#e01818" stroke="#000" stroke-width=".6"/><circle cx="26" cy="19" r="2.5" fill="none" stroke="#000"/><circle cx="26" cy="26" r="2.5" fill="none" stroke="#000"/></g>
<!-- white row -->
<g transform="translate(1759 242)"><rect x="10" y="13" width="16" height="16" fill="none" stroke="#000"/><circle cx="18" cy="21" r="6" fill="#000"/><path d="M22 15L30 7" stroke="#000" stroke-width="2"/><path d="M32 5L25 8L29 12Z" fill="#000"/></g>
<g transform="translate(1799 242)"><rect x="5" y="5" width="28" height="28" fill="#000"/><rect x="17" y="8" width="12" height="12" fill="none" stroke="#e01818" stroke-width="2"/><rect x="7" y="24" width="7" height="7" fill="none" stroke="#0818f4" stroke-width="2"/><path d="M7 24L17 8M14 31L29 20" stroke="#fff" stroke-width=".7"/></g>
<g transform="translate(1839 242)"><rect x="7" y="14" width="24" height="8" fill="#000"/><path d="M7 14V11M11 14V12M15 14V11M19 14V12M23 14V11M27 14V12M31 14V11" stroke="#000"/></g>
<g transform="translate(1879 242)"><rect x="8" y="8" width="22" height="22" fill="none" stroke="#000" stroke-dasharray="2 2"/><circle cx="19" cy="19" r="7" fill="#000"/></g>
<!-- gray row 2 -->
<g transform="translate(1759 282)"><path d="M12 10V25H26" stroke="#0818f4" stroke-width="4" fill="none"/><circle cx="12" cy="10" r="4.5" fill="#0818f4"/><circle cx="12" cy="26" r="4.5" fill="#0818f4"/><circle cx="27" cy="26" r="4.5" fill="#0818f4"/><circle cx="26" cy="11" r="4.5" fill="#f00000"/></g>
<g transform="translate(1799 282)"><path d="M11 11L27 27M27 11L11 27" stroke="#000" stroke-width="2"/><circle cx="19" cy="19" r="4" fill="#0818f4"/></g>
<g transform="translate(1839 282)"><circle cx="11" cy="27" r="3.5" fill="none" stroke="#0818f4" stroke-width="2"/><circle cx="27" cy="11" r="4.5" fill="#f00000"/><path d="M15 23L22 16" stroke="#000"/></g>
<g transform="translate(1879 282)"><circle cx="11" cy="27" r="4.5" fill="#0818f4"/><circle cx="27" cy="11" r="4.5" fill="#f00000"/><path d="M15 23L22 16" stroke="#000"/></g>
<!-- gray row 3 -->
<g transform="translate(1759 322)"><path d="M8 26L26 9" stroke="#e01818" stroke-width="2"/><path d="M8 29H29" stroke="#0818f4" stroke-width="3"/><path d="M24 22L20 18" stroke="#000"/></g>
<g transform="translate(1799 322)"><path d="M9 28L19 18" stroke="#0818f4" stroke-width="2.5"/><path d="M19 18L28 9" stroke="#e01818" stroke-width="2.5"/><path d="M21 25L24 22" stroke="#000"/></g>
<g transform="translate(1839 322)"><path d="M17 11Q26 18 19 27L15 27" fill="none" stroke="#000" stroke-width="1.5"/></g>
<g transform="translate(1879 322)"><path d="M8 10H16V30M8 19H16" fill="none" stroke="#0818f4" stroke-width="2.5"/><path d="M19 6V33" stroke="#000"/><path d="M22 30V10H31M22 19H30" fill="none" stroke="#f02020" stroke-width="2.5"/></g>
<!-- gray row 4 -->
<g transform="translate(1759 362)"><rect x="22" y="5" width="10" height="10" fill="#f00000"/><circle cx="27" cy="10" r="3" fill="#fff"/><rect x="6" y="21" width="11" height="11" fill="none" stroke="#0818f4"/><circle cx="11.5" cy="26.5" r="3.5" fill="#0818f4"/><path d="M17 21L22 16" stroke="#000"/></g>
<g transform="translate(1799 362)"><path d="M8 19H30" stroke="#e01818" stroke-width="2.5"/><path d="M15 19H23" stroke="#0818f4" stroke-width="2.5"/></g>
<g transform="translate(1839 362)"><path d="M8 7V31M30 7V31" stroke="#000"/><path d="M9 19H29" stroke="#0818f4" stroke-width=".8"/><rect x="15" y="15" width="8" height="8" fill="none" stroke="#0818f4"/></g>
<g transform="translate(1879 362)"><path d="M7 7H20V14H31V31H12V20H7Z" fill="#0818f4"/><circle cx="13" cy="13" r="3.5" fill="#c0c0c0"/><circle cx="25" cy="24" r="4.5" fill="#c0c0c0"/></g>
<!-- gray row 5 -->
<g transform="translate(1759 402)"><path d="M19 14L29 29H9Z" fill="none" stroke="#e01818" stroke-width="2"/><path d="M8 30H30" stroke="#0818f4" stroke-width="3"/><path d="M19 20V25" stroke="#000"/></g>
<g transform="translate(1799 402)"><path d="M9 32L19 6L29 32" fill="none" stroke="#e01818" stroke-width="2"/><path d="M11 31L19 20L27 31" fill="none" stroke="#0818f4" stroke-width="2"/><path d="M19 14V20" stroke="#000" stroke-width="1.5"/></g>
<g transform="translate(1839 402)"><path d="M8 32L14 8H24L30 32" fill="none" stroke="#e01818" stroke-width="2.5"/><path d="M7 25H31" stroke="#0818f4" stroke-width="2.5"/><path d="M7 32L10 25M31 32L28 25" stroke="#0818f4" stroke-width="2"/><path d="M19 13V19" stroke="#000"/></g>
<g transform="translate(1879 402)"><path d="M10 26L14 8H24L28 26" fill="none" stroke="#e01818" stroke-width="2.5"/><path d="M5 25H33" stroke="#0818f4" stroke-width="2.5"/><path d="M6 21L12 29M12 21L6 29M26 21L32 29M32 21L26 29" stroke="#000" stroke-width=".8"/><path d="M19 13V19" stroke="#000"/></g>
<!-- orange row -->
<use href="#cur" x="1773" y="452"/>
<g transform="translate(1799 442)"><rect x="8" y="8" width="22" height="22" fill="none" stroke="#e01818" stroke-width="2"/></g><use href="#cur" x="1813" y="452"/>
<g transform="translate(1839 442)"><polygon points="13,8 29,8 29,30 13,30 8,24 8,14" fill="none" stroke="#e01818" stroke-width="2"/></g><use href="#cur" x="1853" y="452"/>
<g transform="translate(1879 442)"><path d="M10 26V19H18V13H26" fill="none" stroke="#000"/><circle cx="9" cy="19" r="2.5" fill="#e01818"/><circle cx="9" cy="28" r="2.5" fill="#40e040" stroke="#000" stroke-width=".5"/><circle cx="28" cy="11" r="2.5" fill="#40e040" stroke="#000" stroke-width=".5"/></g><use href="#cur" x="1901" y="458"/>

<!-- preview -->
<rect x="1758.5" y="669.5" width="162" height="88" fill="none" stroke="#408030"/>
<rect x="1761" y="684" width="124" height="70" fill="#f00000"/>
<rect x="1770" y="694" width="74" height="43" fill="none" stroke="#a0a0a0" stroke-width="2.5"/>
<path d="M1771 696.5H1843M1771 715H1843M1771 735H1843M1770.5 696V736M1807 696V736" stroke="#20e8e8" stroke-width="2" fill="none"/>
<path d="M1788 696V736M1826 696V736" stroke="#909090" stroke-width="2.5" fill="none"/>
<g stroke="#d0ffff" stroke-width=".7"><path d="M1768 733L1773 738M1773 733L1768 738M1768 713L1773 718M1773 713L1768 718M1785.5 713L1790.5 718M1790.5 713L1785.5 718M1804.5 713L1809.5 718M1809.5 713L1804.5 718M1823.5 713L1828.5 718M1828.5 713L1823.5 718"/></g>

<!-- coords -->
<rect x="1757" y="942" width="163" height="44" fill="#52c8aa"/>
<rect x="1757" y="941" width="163" height="2" fill="#a0e0d0"/>
<text x="1761" y="960" font-size="15" fill="#0c1c1c" font-weight="bold">X = 25.145047<tspan font-size="12" letter-spacing="-1">mm</tspan></text>
<text x="1761" y="976" font-size="15" fill="#0c1c1c" font-weight="bold">Y = 156.124143<tspan font-size="12" letter-spacing="-1">mm</tspan></text>

<!-- bottom bar -->
<rect y="986" width="1920" height="34" fill="#ffffd0"/>
<rect y="1019" width="1920" height="2" fill="#000"/>
<rect x="1840" y="986" width="2" height="34" fill="#000"/>
<rect x="1842" y="988" width="78" height="31" fill="#52c8aa"/><rect x="1847" y="991" width="71" height="25" fill="#52c8aa" stroke="#c8f0e0"/>
<text x="1852" y="1008" font-size="12" font-weight="bold" fill="#0c1c1c" letter-spacing="-.6">MM</text>
<rect x="1897" y="1001" width="12" height="5" fill="#a0dcdc" stroke="#2f5f55"/>
<g transform="translate(1 987)"><rect width="31" height="32" fill="#ffffd0" stroke="#888"/><rect x="5" y="6" width="21" height="20" fill="#ffffd0" stroke="#000"/><path d="M9 10L22 22M22 22V17M22 22H17" stroke="#000" fill="none"/></g>
<g transform="translate(33 987)"><rect width="31" height="32" fill="#ffffd0" stroke="#888"/><rect x="5" y="6" width="21" height="20" fill="#ffffd0" stroke="#000"/><path d="M9 24L20 9M8 24H24" stroke="#000" fill="none"/></g>
<g transform="translate(65 987)"><rect width="30" height="32" fill="#50b89c"/><rect x="4" y="3" width="22" height="26" fill="#d0e8c8"/><rect x="7" y="8" width="15" height="15" fill="none" stroke="#000"/><path d="M14.5 8V23M7 15H22" stroke="#000"/></g>
<text x="98" y="1007" font-size="12" font-weight="bold" fill="#111" letter-spacing=".6">X Y :</text>
<rect x="145" y="989" width="169" height="27" fill="#ffffd0" stroke="#b0b090" stroke-width="2.5"/>
<path d="M152 993V1003" stroke="#333" stroke-dasharray="1 1"/>
<g transform="translate(317 987)"><rect width="29" height="32" fill="#50b89c"/><rect x="3" y="3" width="23" height="26" fill="#d0e8c8"/><rect x="7" y="8" width="15" height="15" fill="none" stroke="#000"/><rect x="13.7" y="10" width="1.8" height="8" fill="#000"/><rect x="13.7" y="19.5" width="1.8" height="2" fill="#000"/></g>
<text x="351" y="1007" font-size="11.7" font-weight="bold" fill="#111">&lt;M1&gt; - Select first window corner</text>
<!-- status -->
<rect y="1021" width="1920" height="4" fill="#7f9f98"/>
<rect x="2" y="1024" width="1916" height="24" fill="#b0ffff"/>
<rect x="2" y="1046" width="1916" height="2" fill="#5f9a9a"/>
<rect x="2" y="1024" width="2" height="24" fill="#e0ffff"/>
<rect y="1048" width="1920" height="3" fill="#e8fff8"/>
<rect y="1051" width="1920" height="5" fill="#d4d0c8"/>
<text x="841" y="1039" font-size="11.4" font-weight="bold" fill="#111">DX=-3.49999,DY=4.99999,D=6.1032625</text>
</svg>
</body></html>
